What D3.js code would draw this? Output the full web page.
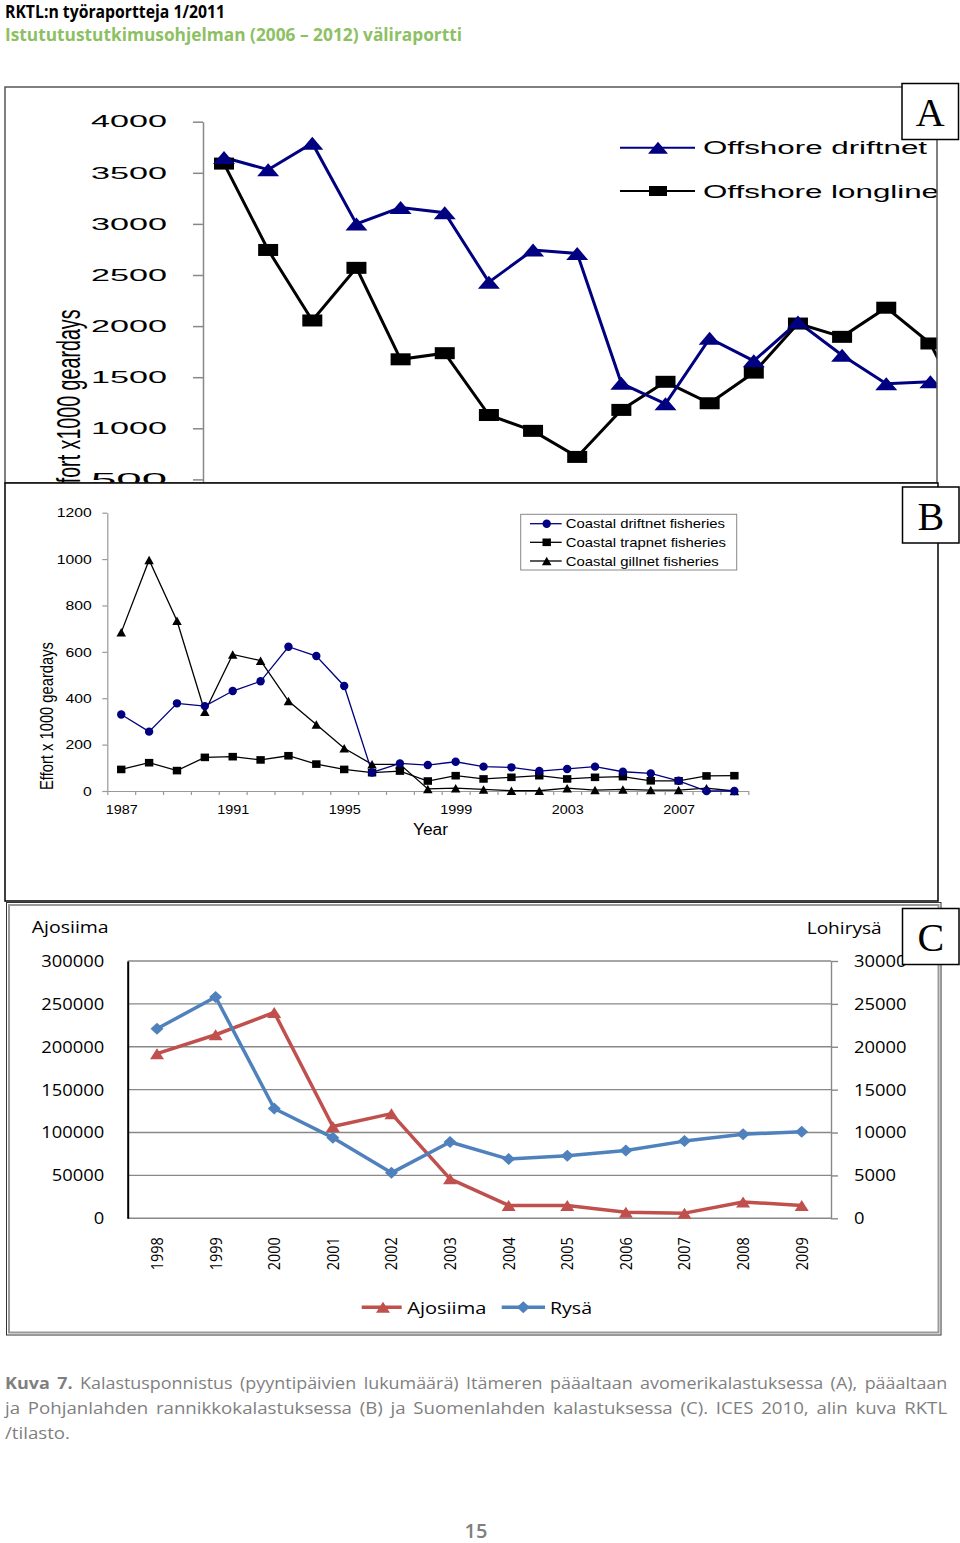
<!DOCTYPE html>
<html>
<head>
<meta charset="utf-8">
<script src="https://cdn.jsdelivr.net/npm/d3@7"></script>
<style>
  body { margin: 0; background: #fff; }
</style>
</head>
<body>
<svg id="page"></svg>
<script>
// ---- panel A: offshore effort (x1000 geardays) ----
const yearsA = [1993, 1994, 1995, 1996, 1997, 1998, 1999, 2000, 2001, 2002, 2003, 2004, 2005, 2006, 2007, 2008, 2009, 2010];
const offshoreDriftnet = [3650, 3530, 3790, 3000, 3160, 3110, 2430, 2745, 2710, 1440, 1240, 1880, 1660, 2040, 1715, 1435, 1455];
const offshoreLongline = [3590, 2745, 2055, 2570, 1675, 1735, 1130, 975, 720, 1180, 1455, 1245, 1545, 2025, 1895, 2180, 1830, 970];
const ticksA = [500, 1000, 1500, 2000, 2500, 3000, 3500, 4000];

// ---- panel B: coastal effort ----
const yearsB = [1987, 1988, 1989, 1990, 1991, 1992, 1993, 1994, 1995, 1996, 1997, 1998, 1999, 2000, 2001, 2002, 2003, 2004, 2005, 2006, 2007, 2008, 2009];
const coastalDriftnet = [330, 256, 378, 366, 431, 473, 622, 582, 453, 80, 119, 112, 126, 105, 102, 86, 95, 105, 83, 76, 44, 0, 0];
const coastalTrapnet = [93, 122, 88, 145, 148, 134, 152, 116, 93, 79, 86, 43, 66, 52, 59, 66, 52, 59, 62, 44, 44, 65, 66];
const coastalGillnet = [684, 996, 734, 342, 589, 562, 388, 287, 184, 115, 115, 9, 12, 7, 1, 1, 12, 4, 7, 4, 4, 12, 0];
const ticksB = [0, 200, 400, 600, 800, 1000, 1200];
const yearLabelsB = [1987, 1991, 1995, 1999, 2003, 2007];

// ---- panel C: Gulf of Finland ----
const yearsC = ['1998', '1999', '2000', '2001', '2002', '2003', '2004', '2005', '2006', '2007', '2008', '2009'];
const ajosiima = [192000, 214000, 240000, 107000, 122000, 46000, 15000, 15000, 7000, 6000, 19000, 15000];
const rysa = [22100, 25800, 12800, 9400, 5300, 8900, 6900, 7300, 7900, 9000, 9800, 10100]; // right axis
const ticksCLeft = [0, 50000, 100000, 150000, 200000, 250000, 300000];
const ticksCRight = [0, 5000, 10000, 15000, 20000, 25000, 30000];

const ARIAL = 'Liberation Sans, Arial, sans-serif';
const SANS = 'Open Sans, sans-serif';
const SERIF = 'Liberation Serif, Times New Roman, serif';
const fmt = d3.format('d');

const svg = d3.select('#page').attr('width', 960).attr('height', 1543);
svg.append('rect').attr('width', 960).attr('height', 1543).attr('fill', '#fff');

// marker shapes
const tri = (w, h) => `M0,${-h / 2}L${w / 2},${h / 2}L${-w / 2},${h / 2}Z`;
const diamond = (w, h) => `M0,${-h / 2}L${w / 2},0L0,${h / 2}L${-w / 2},0Z`;

// header
svg.append('text')
  .attr('x', 5).attr('y', 18)
  .attr('font-family', SANS).attr('font-weight', 700).attr('font-size', 17)
  .attr('textLength', 220).attr('lengthAdjust', 'spacingAndGlyphs')
  .attr('fill', '#000')
  .text('RKTL:n työraportteja 1/2011');
svg.append('text')
  .attr('x', 5).attr('y', 41)
  .attr('font-family', SANS).attr('font-weight', 700).attr('font-size', 17.5)
  .attr('textLength', 457).attr('lengthAdjust', 'spacingAndGlyphs')
  .attr('fill', '#8dc063')
  .text('Istututustutkimusohjelman (2006 – 2012) väliraportti');

// ================= PANEL A =================
svg.append('defs').append('clipPath').attr('id', 'clipA')
  .append('rect').attr('x', 5).attr('y', 87).attr('width', 932).attr('height', 396);

const gA = svg.append('g').attr('clip-path', 'url(#clipA)');
const xA = d3.scaleLinear().domain([1993, 2010]).range([224, 224 + 17 * 44.15]);
const yA = d3.scaleLinear().domain([0, 4000]).range([530.5, 121.7]);

const axisA = gA.append('g')
  .attr('transform', 'translate(203,0)')
  .call(d3.axisLeft(yA).tickValues(ticksA).tickFormat(fmt).tickSize(10).tickSizeOuter(0).tickPadding(26));
axisA.selectAll('path, line').attr('stroke', '#888').attr('stroke-width', 1.5);
axisA.selectAll('text')
  .attr('font-family', ARIAL).attr('font-size', 16.5).attr('fill', '#000')
  .attr('textLength', 76).attr('lengthAdjust', 'spacingAndGlyphs');

gA.append('text')
  .attr('transform', 'translate(80,501.5) rotate(-90)')
  .attr('font-family', ARIAL).attr('font-size', 33)
  .attr('textLength', 192).attr('lengthAdjust', 'spacingAndGlyphs')
  .text('Effort x1000 geardays');

const lineA = (arr) => d3.line().x((d, i) => xA(yearsA[i])).y((d) => yA(d))(arr);

gA.append('path').attr('d', lineA(offshoreLongline))
  .attr('fill', 'none').attr('stroke', '#000').attr('stroke-width', 3);
gA.append('path').attr('d', lineA(offshoreDriftnet))
  .attr('fill', 'none').attr('stroke', '#000080').attr('stroke-width', 3);

gA.selectAll('.sq-a').data(offshoreLongline).join('rect')
  .attr('class', 'sq-a')
  .attr('x', (d, i) => xA(yearsA[i]) - 10).attr('y', (d) => yA(d) - 6)
  .attr('width', 20).attr('height', 12).attr('fill', '#000');
gA.selectAll('.tri-a').data(offshoreDriftnet).join('path')
  .attr('class', 'tri-a')
  .attr('transform', (d, i) => `translate(${xA(yearsA[i])},${yA(d)})`)
  .attr('d', tri(22, 13)).attr('fill', '#000080');

// legend A
const legA = [
  { name: 'Offshore driftnet', y: 147.7, color: '#000080', mark: 'tri', len: 224 },
  { name: 'Offshore longline', y: 191, color: '#000', mark: 'sq', len: 236 },
];
legA.forEach((d) => {
  gA.append('line').attr('x1', 620).attr('x2', 695).attr('y1', d.y).attr('y2', d.y)
    .attr('stroke', d.color).attr('stroke-width', 2);
  if (d.mark === 'tri') {
    gA.append('path').attr('transform', `translate(658,${d.y})`).attr('d', tri(20, 12)).attr('fill', d.color);
  } else {
    gA.append('rect').attr('x', 649).attr('y', d.y - 5).attr('width', 18).attr('height', 10).attr('fill', d.color);
  }
  gA.append('text').attr('x', 703).attr('y', d.y + 6.5)
    .attr('font-family', ARIAL).attr('font-size', 18)
    .attr('textLength', d.len).attr('lengthAdjust', 'spacingAndGlyphs')
    .text(d.name);
});

svg.append('rect').attr('x', 5).attr('y', 87).attr('width', 932).attr('height', 396)
  .attr('fill', 'none').attr('stroke', '#555').attr('stroke-width', 1.5);

// ================= PANEL B =================
svg.append('rect').attr('x', 5).attr('y', 483).attr('width', 933).attr('height', 418)
  .attr('fill', '#fff').attr('stroke', '#000').attr('stroke-width', 1.5);

const gB = svg.append('g');
const xB = d3.scaleLinear().domain([1986.5, 2009.5]).range([107.3, 748.3]);
const yB = d3.scaleLinear().domain([0, 1200]).range([791, 512.7]);

const axisBy = gB.append('g')
  .attr('transform', 'translate(107.3,0)')
  .call(d3.axisLeft(yB).tickValues(ticksB).tickFormat(fmt).tickSize(5).tickSizeOuter(0).tickPadding(10.6));
axisBy.selectAll('path, line').attr('stroke', '#999').attr('stroke-width', 1.2);
axisBy.selectAll('text')
  .attr('font-family', ARIAL).attr('font-size', 13).attr('fill', '#000')
  .attr('textLength', (d) => 8.75 * String(d).length).attr('lengthAdjust', 'spacingAndGlyphs');

const axisBx = gB.append('g')
  .attr('transform', 'translate(0,791)')
  .call(d3.axisBottom(xB).tickValues(d3.range(1986.5, 2010, 1)).tickSize(4).tickSizeOuter(0).tickFormat(''));
axisBx.selectAll('path, line').attr('stroke', '#999').attr('stroke-width', 1.2);

const labelsBx = gB.append('g')
  .attr('transform', 'translate(0,791)')
  .call(d3.axisBottom(xB).tickValues(yearLabelsB).tickSize(0).tickPadding(14).tickFormat(fmt));
labelsBx.select('.domain').remove();
labelsBx.selectAll('text')
  .attr('font-family', ARIAL).attr('font-size', 13).attr('fill', '#000')
  .attr('textLength', 32).attr('lengthAdjust', 'spacingAndGlyphs');

gB.append('text').attr('x', 430.5).attr('y', 835).attr('text-anchor', 'middle')
  .attr('font-family', ARIAL).attr('font-size', 16)
  .attr('textLength', 35).attr('lengthAdjust', 'spacingAndGlyphs')
  .text('Year');

gB.append('text')
  .attr('transform', 'translate(53.3,716) rotate(-90)')
  .attr('text-anchor', 'middle')
  .attr('font-family', ARIAL).attr('font-size', 18)
  .attr('textLength', 148).attr('lengthAdjust', 'spacingAndGlyphs')
  .text('Effort x 1000 geardays');

const lineB = (arr) => d3.line().x((d, i) => xB(yearsB[i])).y((d) => yB(d))(arr);
gB.append('path').attr('d', lineB(coastalTrapnet)).attr('fill', 'none').attr('stroke', '#000').attr('stroke-width', 1.3);
gB.append('path').attr('d', lineB(coastalGillnet)).attr('fill', 'none').attr('stroke', '#000').attr('stroke-width', 1.3);
gB.append('path').attr('d', lineB(coastalDriftnet)).attr('fill', 'none').attr('stroke', '#000080').attr('stroke-width', 1.3);

gB.selectAll('.sq-b').data(coastalTrapnet).join('rect')
  .attr('class', 'sq-b')
  .attr('x', (d, i) => xB(yearsB[i]) - 4.2).attr('y', (d) => yB(d) - 3.8)
  .attr('width', 8.4).attr('height', 7.6).attr('fill', '#000');
gB.selectAll('.tri-b').data(coastalGillnet).join('path')
  .attr('class', 'tri-b')
  .attr('transform', (d, i) => `translate(${xB(yearsB[i])},${yB(d)})`)
  .attr('d', tri(9.5, 8.5)).attr('fill', '#000');
gB.selectAll('.dot-b').data(coastalDriftnet).join('circle')
  .attr('class', 'dot-b')
  .attr('cx', (d, i) => xB(yearsB[i])).attr('cy', (d) => yB(d))
  .attr('r', 4.2).attr('fill', '#000080');

// legend B
gB.append('rect').attr('x', 520.7).attr('y', 514.3).attr('width', 216).attr('height', 55.7)
  .attr('fill', '#fff').attr('stroke', '#888').attr('stroke-width', 1);
const legB = [
  { name: 'Coastal driftnet fisheries', y: 523.7, color: '#000080', mark: 'dot', len: 159.3 },
  { name: 'Coastal trapnet fisheries', y: 542.3, color: '#000', mark: 'sq', len: 160.3 },
  { name: 'Coastal gillnet fisheries', y: 561, color: '#000', mark: 'tri', len: 153 },
];
legB.forEach((d) => {
  gB.append('line').attr('x1', 530).attr('x2', 561.7).attr('y1', d.y).attr('y2', d.y)
    .attr('stroke', d.color).attr('stroke-width', 1.3);
  if (d.mark === 'dot') {
    gB.append('circle').attr('cx', 546.7).attr('cy', d.y).attr('r', 4.2).attr('fill', d.color);
  } else if (d.mark === 'sq') {
    gB.append('rect').attr('x', 542.5).attr('y', d.y - 3.8).attr('width', 8.4).attr('height', 7.6).attr('fill', d.color);
  } else {
    gB.append('path').attr('transform', `translate(546.7,${d.y})`).attr('d', tri(9.5, 8.5)).attr('fill', d.color);
  }
  gB.append('text').attr('x', 565.7).attr('y', d.y + 4.6)
    .attr('font-family', ARIAL).attr('font-size', 13)
    .attr('textLength', d.len).attr('lengthAdjust', 'spacingAndGlyphs')
    .text(d.name);
});

// ================= PANEL C =================
svg.append('rect').attr('x', 6.5).attr('y', 902.5).attr('width', 934.5).attr('height', 432.5)
  .attr('fill', '#fff').attr('stroke', '#333').attr('stroke-width', 1);
svg.append('rect').attr('x', 9).attr('y', 905).attr('width', 929.5).attr('height', 427.5)
  .attr('fill', 'none').attr('stroke', '#999').attr('stroke-width', 2);

const gC = svg.append('g');
const xC = d3.scalePoint().domain(yearsC).range([127.7, 831]).padding(0.5);
const yCL = d3.scaleLinear().domain([0, 300000]).range([1218.3, 961]);
const yCR = d3.scaleLinear().domain([0, 30000]).range([1218.3, 961]);

// gridlines + right axis
const axisCR = gC.append('g')
  .attr('transform', 'translate(831,0)')
  .call(d3.axisRight(yCR).tickValues(ticksCRight).tickFormat(fmt).tickSizeInner(7).tickSizeOuter(0).tickPadding(16));
axisCR.selectAll('path, line').attr('stroke', '#888').attr('stroke-width', 1.4);
axisCR.selectAll('text')
  .attr('font-family', SANS).attr('font-size', 17).attr('fill', '#000')
  .attr('textLength', (d) => 10.5 * String(d).length).attr('lengthAdjust', 'spacingAndGlyphs');

gC.append('g').selectAll('line').data(ticksCLeft).join('line')
  .attr('x1', 127.7).attr('x2', 831)
  .attr('y1', (d) => yCL(d)).attr('y2', (d) => yCL(d))
  .attr('stroke', '#888').attr('stroke-width', 1.4);

const axisCL = gC.append('g')
  .attr('transform', 'translate(127.7,0)')
  .call(d3.axisLeft(yCL).tickValues(ticksCLeft).tickFormat(fmt).tickSize(0).tickPadding(23.4));
axisCL.select('.domain').attr('stroke', '#000').attr('stroke-width', 2);
axisCL.selectAll('text')
  .attr('font-family', SANS).attr('font-size', 17).attr('fill', '#000')
  .attr('textLength', (d) => 10.5 * String(d).length).attr('lengthAdjust', 'spacingAndGlyphs');

// rotated year labels
gC.append('g').selectAll('text').data(yearsC).join('text')
  .attr('transform', (d) => `translate(${xC(d) + 6},1237.3) rotate(-90)`)
  .attr('text-anchor', 'end')
  .attr('font-family', SANS).attr('font-size', 17)
  .attr('textLength', 33).attr('lengthAdjust', 'spacingAndGlyphs')
  .text((d) => d);

gC.append('text').attr('x', 31.7).attr('y', 933)
  .attr('font-family', SANS).attr('font-size', 17)
  .attr('textLength', 77).attr('lengthAdjust', 'spacingAndGlyphs')
  .text('Ajosiima');
gC.append('text').attr('x', 806.7).attr('y', 934)
  .attr('font-family', SANS).attr('font-size', 17)
  .attr('textLength', 75).attr('lengthAdjust', 'spacingAndGlyphs')
  .text('Lohirysä');

const redC = '#c0504d';
const blueC = '#4f81bd';
gC.append('path')
  .attr('d', d3.line().x((d, i) => xC(yearsC[i])).y((d) => yCL(d))(ajosiima))
  .attr('fill', 'none').attr('stroke', redC).attr('stroke-width', 3.5).attr('stroke-linejoin', 'round');
gC.append('path')
  .attr('d', d3.line().x((d, i) => xC(yearsC[i])).y((d) => yCR(d))(rysa))
  .attr('fill', 'none').attr('stroke', blueC).attr('stroke-width', 3.5).attr('stroke-linejoin', 'round');

gC.selectAll('.tri-c').data(ajosiima).join('path')
  .attr('class', 'tri-c')
  .attr('transform', (d, i) => `translate(${xC(yearsC[i])},${yCL(d)})`)
  .attr('d', tri(14, 11)).attr('fill', redC);
gC.selectAll('.dia-c').data(rysa).join('path')
  .attr('class', 'dia-c')
  .attr('transform', (d, i) => `translate(${xC(yearsC[i])},${yCR(d)})`)
  .attr('d', diamond(13, 12)).attr('fill', blueC);

// legend C
gC.append('line').attr('x1', 361.7).attr('x2', 401.7).attr('y1', 1307.3).attr('y2', 1307.3)
  .attr('stroke', redC).attr('stroke-width', 3.5);
gC.append('path').attr('transform', 'translate(383,1307.3)').attr('d', tri(14, 11)).attr('fill', redC);
gC.append('text').attr('x', 407.3).attr('y', 1313.5)
  .attr('font-family', SANS).attr('font-size', 17)
  .attr('textLength', 79).attr('lengthAdjust', 'spacingAndGlyphs')
  .text('Ajosiima');
gC.append('line').attr('x1', 501.7).attr('x2', 545).attr('y1', 1307.3).attr('y2', 1307.3)
  .attr('stroke', blueC).attr('stroke-width', 3.5);
gC.append('path').attr('transform', 'translate(523.3,1307.3)').attr('d', diamond(13, 12)).attr('fill', blueC);
gC.append('text').attr('x', 550).attr('y', 1313.5)
  .attr('font-family', SANS).attr('font-size', 17)
  .attr('textLength', 42).attr('lengthAdjust', 'spacingAndGlyphs')
  .text('Rysä');

// panel letter boxes
[
  { t: 'A', x: 902, y: 83.5 },
  { t: 'B', x: 902.5, y: 487 },
  { t: 'C', x: 902.5, y: 908.5 },
].forEach((d) => {
  svg.append('rect').attr('x', d.x).attr('y', d.y).attr('width', 56.5).attr('height', 56)
    .attr('fill', '#fff').attr('stroke', '#000').attr('stroke-width', 1.5);
  svg.append('text').attr('x', d.x + 28.3).attr('y', d.y + 42.5)
    .attr('text-anchor', 'middle')
    .attr('font-family', SERIF).attr('font-size', 40)
    .text(d.t);
});

// caption: each line stretched to the full width, with a little extra word gap
const capColor = '#7f7f7f';
const extraGap = 2.5;
function capLine(y) {
  const g = svg.append('g').attr('transform', `translate(5,${y})`);
  return g.append('text').attr('x', 0).attr('y', 0)
    .attr('font-family', SANS).attr('font-size', 16).attr('fill', capColor);
}
function justify(sel, width) {
  const natural = sel.node().getComputedTextLength();
  const spaces = (sel.text().match(/ /g) || []).length;
  const k = width / (natural + extraGap * spaces);
  sel.attr('word-spacing', extraGap);
  d3.select(sel.node().parentNode).attr('transform', (_, i, n) => `${n[i].getAttribute('transform')} scale(${k.toFixed(4)},1)`);
  return k;
}
const cap1 = capLine(1388.5);
cap1.append('tspan').attr('font-weight', 700).text('Kuva 7.');
cap1.append('tspan').text(' Kalastusponnistus (pyyntipäivien lukumäärä) Itämeren pääaltaan avomerikalastuksessa (A), pääaltaan');
justify(cap1, 943);
const cap2 = capLine(1413.5)
  .text('ja Pohjanlahden rannikkokalastuksessa (B) ja Suomenlahden kalastuksessa (C). ICES 2010, alin kuva RKTL');
const k2 = justify(cap2, 943);
const cap3 = capLine(1438.5).text('/tilasto.');
d3.select(cap3.node().parentNode).attr('transform', `translate(5,1438.5) scale(${k2.toFixed(4)},1)`);

svg.append('text').attr('x', 476).attr('y', 1538)
  .attr('text-anchor', 'middle')
  .attr('font-family', SANS).attr('font-weight', 600).attr('font-size', 20).attr('fill', capColor)
  .text('15');
</script>
</body>
</html>
